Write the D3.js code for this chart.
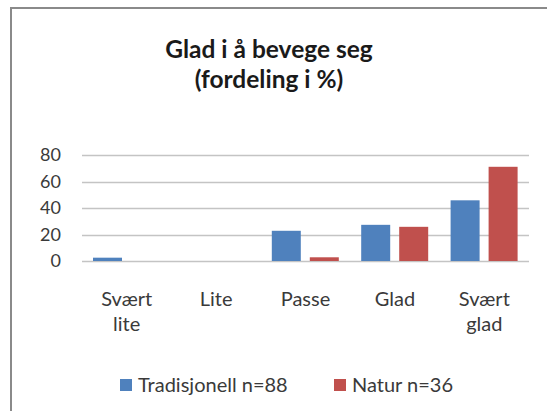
<!DOCTYPE html>
<html>
<head>
<meta charset="utf-8">
<script src="https://cdn.jsdelivr.net/npm/d3@7"></script>
<style>
  html, body { margin: 0; padding: 0; background: #fff; }
  svg { display: block; font-family: Lato, "Open Sans", sans-serif; }
</style>
</head>
<body>
<div id="chart"></div>
<script>
// Glad i å bevege seg - grouped bars, two series
const categories = [['Svært', 'lite'], ['Lite'], ['Passe'], ['Glad'], ['Svært', 'glad']];
const seriesNames = ['Tradisjonell n=88', 'Natur n=36'];
const tradisjonell = [2.5, 0, 22.8, 27.3, 45.8];
const natur = [0, 0, 2.8, 25.8, 71.1];
const yTicks = [0, 20, 40, 60, 80];
const colors = ['#4f81bd', '#c0504d'];

const W = 547, H = 411;
const textColor = '#3a3a3a';
const svg = d3.select('#chart').append('svg')
    .attr('width', W)
    .attr('height', H);

// outer chart frame (right and bottom edges fall outside the crop)
svg.append('rect')
    .attr('x', 11).attr('y', 8)
    .attr('width', 560).attr('height', 420)
    .attr('fill', '#fff')
    .attr('stroke', '#8a8a8a')
    .attr('stroke-width', 2);

// title
const title = svg.append('text')
    .attr('text-anchor', 'middle')
    .style('font-weight', 700)
    .style('font-size', '24.5px')
    .attr('fill', '#1a1a1a');
title.append('tspan').attr('x', 269).attr('y', 58).text('Glad i å bevege seg');
title.append('tspan').attr('x', 269).attr('y', 88).text('(fordeling i %)');

const catKeys = categories.map(c => c.join(' '));

const x = d3.scaleBand()
    .domain(catKeys)
    .range([82, 529]);

const x1 = d3.scaleBand()
    .domain(seriesNames)
    .range([11, 78])
    .paddingInner(0.237);

const y = d3.scaleLinear()
    .domain([0, 80])
    .range([261, 155]);

// gridlines
svg.append('g')
    .selectAll('line')
    .data(yTicks)
    .join('line')
    .attr('x1', 82).attr('x2', 529)
    .attr('y1', d => Math.round(y(d)) + 0.5)
    .attr('y2', d => Math.round(y(d)) + 0.5)
    .attr('stroke', '#c4c4c4')
    .attr('stroke-width', 1.5);

// y axis labels
const yAxis = svg.append('g')
    .attr('transform', 'translate(61,0)')
    .call(d3.axisLeft(y).tickValues(yTicks).tickSize(0).tickPadding(0));
yAxis.select('.domain').remove();
yAxis.selectAll('text')
    .style('font-family', 'Lato, "Open Sans", sans-serif')
    .style('font-size', '18px')
    .attr('fill', textColor);

// bars
const rows = catKeys.map((k, i) => ({ key: k, values: [tradisjonell[i], natur[i]] }));

svg.append('g')
    .selectAll('g')
    .data(rows)
    .join('g')
    .attr('transform', d => `translate(${x(d.key)},0)`)
    .selectAll('rect')
    .data(d => d.values.map((v, j) => ({ name: seriesNames[j], value: v, j })))
    .join('rect')
    .attr('x', d => x1(d.name))
    .attr('width', x1.bandwidth())
    .attr('y', d => y(d.value))
    .attr('height', d => y(0) - y(d.value))
    .attr('fill', d => colors[d.j]);

// category labels
const catLabels = svg.append('g')
    .selectAll('text')
    .data(categories)
    .join('text')
    .attr('text-anchor', 'middle')
    .style('font-size', '20px')
    .attr('fill', textColor);
catLabels.each(function(d, i) {
    const cx = x(catKeys[i]) + x.bandwidth() / 2;
    d3.select(this).selectAll('tspan')
        .data(d)
        .join('tspan')
        .attr('x', cx)
        .attr('y', (t, k) => 306 + k * 25)
        .text(t => t);
});

// legend
const legend = svg.append('g');
const legendX = [120, 334];
seriesNames.forEach((name, i) => {
    legend.append('rect')
        .attr('x', legendX[i]).attr('y', 379)
        .attr('width', 12).attr('height', 12)
        .attr('fill', colors[i]);
    legend.append('text')
        .attr('x', legendX[i] + 18).attr('y', 392)
        .style('font-size', '20px')
        .attr('fill', textColor)
        .text(name);
});
</script>
</body>
</html>
